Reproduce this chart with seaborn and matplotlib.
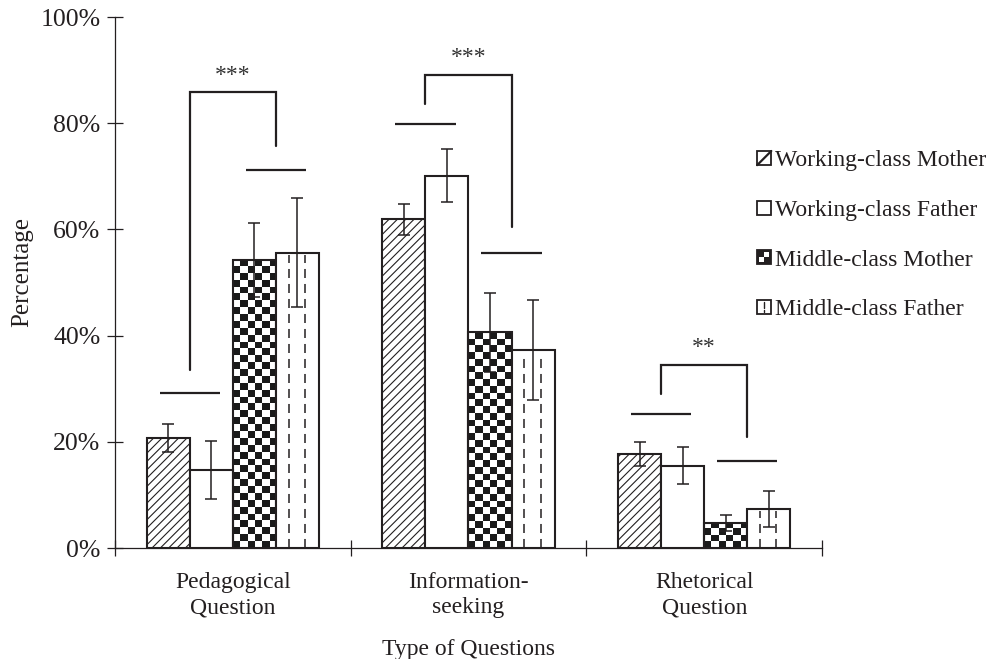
import numpy as np
import pandas as pd
import matplotlib
matplotlib.use("Agg")
import matplotlib.pyplot as plt
import seaborn as sns
from matplotlib.patches import Rectangle, Patch
from matplotlib.lines import Line2D
from matplotlib.legend_handler import HandlerBase
from matplotlib.colors import ListedColormap

# ---------------- data ----------------
categories = ["Pedagogical\nQuestion", "Information-\nseeking", "Rhetorical\nQuestion"]
groups = ["Working-class Mother", "Working-class Father",
          "Middle-class Mother", "Middle-class Father"]

wc_mother = [20.7, 61.9, 17.7]
wc_father = [14.7, 70.1, 15.5]
mc_mother = [54.3, 40.6, 4.8]
mc_father = [55.6, 37.3, 7.4]

wc_mother_err = [2.6, 2.9, 2.2]
wc_father_err = [5.5, 5.0, 3.5]
mc_mother_err = [7.0, 7.5, 1.5]
mc_father_err = [10.3, 9.5, 3.4]

y_ticks = [0, 20, 40, 60, 80, 100]
y_tick_labels = ["0%", "20%", "40%", "60%", "80%", "100%"]

# significance annotations per category
sig_left_line = [29.2, 79.8, 25.2]
sig_right_line = [71.2, 55.6, 16.4]
sig_left_foot = [33.5, 83.7, 29.0]
sig_right_foot = [75.8, 60.4, 20.9]
sig_top = [85.8, 89.1, 34.5]
sig_labels = ["***", "***", "**"]

# ---------------- style ----------------
sns.set_style("white")
DARK = "#231f20"
FS = 17
plt.rcParams["font.family"] = ["Liberation Serif", "DejaVu Serif"]
plt.rcParams["text.color"] = DARK
plt.rcParams["axes.labelcolor"] = DARK
plt.rcParams["xtick.color"] = DARK
plt.rcParams["ytick.color"] = DARK
plt.rcParams["hatch.linewidth"] = 0.8
plt.rcParams["lines.scale_dashes"] = False

df = pd.DataFrame({
    "category": categories * 4,
    "group": [g for g in groups for _ in categories],
    "value": wc_mother + wc_father + mc_mother + mc_father,
})
errs = [wc_mother_err, wc_father_err, mc_mother_err, mc_father_err]

fig = plt.figure(figsize=(9.91, 6.59), dpi=100)
ax = fig.add_axes([0.1160, 0.1684, 0.7135, 0.8058])

sns.barplot(data=df, x="category", y="value", hue="group",
            order=categories, hue_order=groups, width=0.73,
            palette=["white"] * 4, saturation=1, edgecolor=DARK,
            linewidth=1.5, errorbar=None, legend=False, ax=ax)

ax.set_xlim(-0.5, 2.5)
ax.set_ylim(0, 100)

containers = ax.containers
for p in containers[0]:
    p.set_hatch("////")

cmap = ListedColormap(["white", "#1a1a1a"])
px_per_x = ax.bbox.width / 3.0
px_per_y = ax.bbox.height / 100.0
cell = 6.8
for p in containers[2]:
    p.set_facecolor("none")
    x, w, h = p.get_x(), p.get_width(), p.get_height()
    ncols = max(1, int(round(w * px_per_x / cell)))
    nrows = max(1, int(round(h * px_per_y / cell)))
    board = np.add.outer(np.arange(nrows), np.arange(ncols)) % 2
    im = ax.imshow(board, cmap=cmap, extent=(x, x + w, 0, h), origin="upper",
                   interpolation="nearest", aspect="auto", zorder=0.5)
    im.set_clip_path(p)

for p in containers[3]:
    x, w, h = p.get_x(), p.get_width(), p.get_height()
    for frac in (0.30, 0.68):
        ax.plot([x + w * frac, x + w * frac], [0, h - 0.5], color=DARK,
                lw=1.1, dashes=[6.5, 4.3], zorder=1.5, dash_capstyle="butt")

for cont, e in zip(containers, errs):
    xs = [p.get_x() + p.get_width() / 2 for p in cont]
    ys = [p.get_height() for p in cont]
    ax.errorbar(xs, ys, yerr=e, fmt="none", ecolor=DARK, elinewidth=1.1,
                capsize=4, capthick=1.1, zorder=4)

ax.set_xlim(-0.5, 2.5)
ax.set_ylim(0, 100)

half = 0.7 * containers[0][0].get_width()
for i in range(len(categories)):
    xl = containers[0][i].get_x() + containers[0][i].get_width()
    xr = containers[2][i].get_x() + containers[2][i].get_width()
    kw = dict(color=DARK, lw=1.6, solid_capstyle="butt", zorder=3)
    ax.plot([xl - half, xl + half], [sig_left_line[i]] * 2, **kw)
    ax.plot([xr - half, xr + half], [sig_right_line[i]] * 2, **kw)
    ax.plot([xl, xl, xr, xr],
            [sig_left_foot[i], sig_top[i], sig_top[i], sig_right_foot[i]],
            color=DARK, lw=1.6, solid_joinstyle="miter", zorder=3)
    ax.text(i, sig_top[i] + 3.2, sig_labels[i], ha="center", va="center",
            fontsize=FS, color="#333333")

for s in ("top", "right"):
    ax.spines[s].set_visible(False)
for s in ("left", "bottom"):
    ax.spines[s].set_linewidth(0.9)
    ax.spines[s].set_color(DARK)

ax.set_yticks(y_ticks)
ax.set_yticklabels(y_tick_labels, fontsize=18.5)
ax.tick_params(axis="y", left=True, direction="inout", length=11, width=0.9, pad=5)

ax.set_xticks([-0.5, 0.5, 1.5, 2.5])
ax.set_xticklabels([])
ax.set_xticks([0, 1, 2], minor=True)
ax.set_xticklabels(categories, minor=True, fontsize=FS, linespacing=1.3)
ax.tick_params(axis="x", which="major", bottom=True, direction="inout",
               length=11, width=0.9)
ax.tick_params(axis="x", which="minor", bottom=True, length=0, pad=17)

ax.set_xlabel("Type of Questions", fontsize=FS, labelpad=15)
ax.set_ylabel("Percentage", fontsize=18)
ax.yaxis.set_label_coords(-0.116, 0.52)


class BoxHandler(HandlerBase):
    def __init__(self, kind):
        super().__init__()
        self.kind = kind

    def create_artists(self, legend, orig_handle, xdescent, ydescent,
                       width, height, fontsize, trans):
        s = min(width, height)
        x0 = -xdescent + (width - s) / 2
        y0 = -ydescent + (height - s) / 2
        arts = []
        face = DARK if self.kind == "checker" else "white"
        arts.append(Rectangle((x0, y0), s, s, facecolor=face, edgecolor=DARK,
                              lw=1.3, transform=trans))
        if self.kind == "hatch":
            arts.append(Line2D([x0, x0 + s], [y0, y0 + s], color=DARK, lw=1.6,
                               transform=trans))
        elif self.kind == "checker":
            q = s * 0.36
            arts.append(Rectangle((x0 + s * 0.5, y0 + s * 0.5), q, q,
                                  facecolor="white", lw=0, transform=trans))
            arts.append(Rectangle((x0 + s * 0.14, y0 + s * 0.14), q, q,
                                  facecolor="white", lw=0, transform=trans))
        elif self.kind == "dash":
            xc = x0 + s / 2
            arts.append(Line2D([xc, xc], [y0 + s * 0.45, y0 + s * 0.85],
                               color=DARK, lw=1.0, transform=trans))
            arts.append(Line2D([xc, xc], [y0 + s * 0.15, y0 + s * 0.3],
                               color=DARK, lw=1.0, transform=trans))
        return arts


handles = [Patch(facecolor="white", edgecolor=DARK, label=g) for g in groups]
kinds = ["hatch", "plain", "checker", "dash"]
hmap = {h: BoxHandler(k) for h, k in zip(handles, kinds)}
fig.legend(handles=handles, labels=groups, handler_map=hmap,
           loc="center left", bbox_to_anchor=(0.764, 0.643),
           bbox_transform=fig.transFigure, frameon=False, fontsize=FS,
           handlelength=0.6, handleheight=0.6, handletextpad=0.15,
           labelspacing=1.21, borderpad=0, borderaxespad=0)

fig.savefig("out.png", dpi=100)
